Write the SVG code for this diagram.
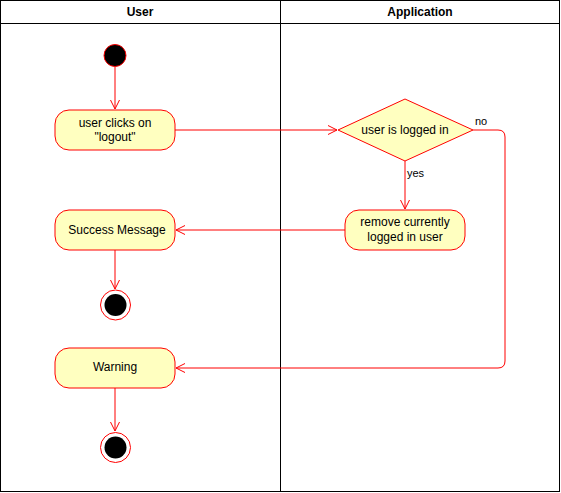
<svg xmlns="http://www.w3.org/2000/svg" width="561" height="493" viewBox="0 0 561 493">
<style>
text{font-family:"Liberation Sans",Arial,sans-serif;font-size:12px;fill:#000;text-anchor:middle}
.hdr{font-weight:bold}
.node{fill:#ffffc0;stroke:#ff0000;stroke-width:1}
.edge{fill:none;stroke:#ff0000;stroke-width:1}
.lane{fill:none;stroke:#000;stroke-width:1}
.lbl{font-size:11px;text-anchor:start}
</style>
<defs>
<marker id="arr" viewBox="0 0 10 10" refX="9" refY="5" markerWidth="10" markerHeight="10" markerUnits="userSpaceOnUse" orient="auto">
<path d="M0,0.5 L9,5 L0,9.5" fill="none" stroke="#ff0000" stroke-width="1"/>
</marker>
</defs>
<rect width="561" height="493" fill="#fff"/>
<g id="lanes">
<rect class="lane" x="0.5" y="0.5" width="559" height="491"/>
<line class="lane" x1="0.5" y1="23.5" x2="559.5" y2="23.5"/>
<line class="lane" x1="280.5" y1="0.5" x2="280.5" y2="491.5"/>
<text class="hdr" x="140" y="16">User</text>
<text class="hdr" x="420" y="16">Application</text>
</g>
<g id="connectors">
<path class="edge" d="M115,67 V109" marker-end="url(#arr)"/>
<path class="edge" d="M175,130 H337" marker-end="url(#arr)"/>
<path class="edge" d="M405,161 V209" marker-end="url(#arr)"/>
<path class="edge" d="M345,230 H176" marker-end="url(#arr)"/>
<path class="edge" d="M473,130 H498 Q505,130 505,137 V361 Q505,368 498,368 H176" marker-end="url(#arr)"/>
<path class="edge" d="M115,250 V289" marker-end="url(#arr)"/>
<path class="edge" d="M115,388 V431" marker-end="url(#arr)"/>
<text class="lbl" x="407" y="177">yes</text>
<text class="lbl" x="475" y="125">no</text>
</g>
<g id="start">
<circle cx="115" cy="55.5" r="11" fill="#000" stroke="#ff0000"/>
</g>
<g id="clicks">
<rect class="node" x="55" y="110" width="120" height="40" rx="14"/>
<text x="115" y="127">user clicks on</text>
<text x="115" y="141">"logout"</text>
</g>
<g id="decision">
<polygon class="node" points="405,99 473,130 405,161 338,130"/>
<text x="405" y="134">user is logged in</text>
</g>
<g id="remove">
<rect class="node" x="345" y="210" width="120" height="40" rx="14"/>
<text x="405" y="226">remove currently</text>
<text x="405" y="241">logged in user</text>
</g>
<g id="success">
<rect class="node" x="55" y="210" width="120" height="40" rx="14"/>
<text x="117" y="234">Success Message</text>
</g>
<g id="end1">
<circle cx="115.5" cy="305" r="15" fill="#fff" stroke="#ff0000"/>
<circle cx="115.5" cy="305" r="11" fill="#000"/>
</g>
<g id="warning">
<rect class="node" x="55" y="348" width="120" height="40" rx="14"/>
<text x="115" y="371">Warning</text>
</g>
<g id="end2">
<circle cx="115.5" cy="447.5" r="15" fill="#fff" stroke="#ff0000"/>
<circle cx="115.5" cy="447.5" r="11" fill="#000"/>
</g>
</svg>
